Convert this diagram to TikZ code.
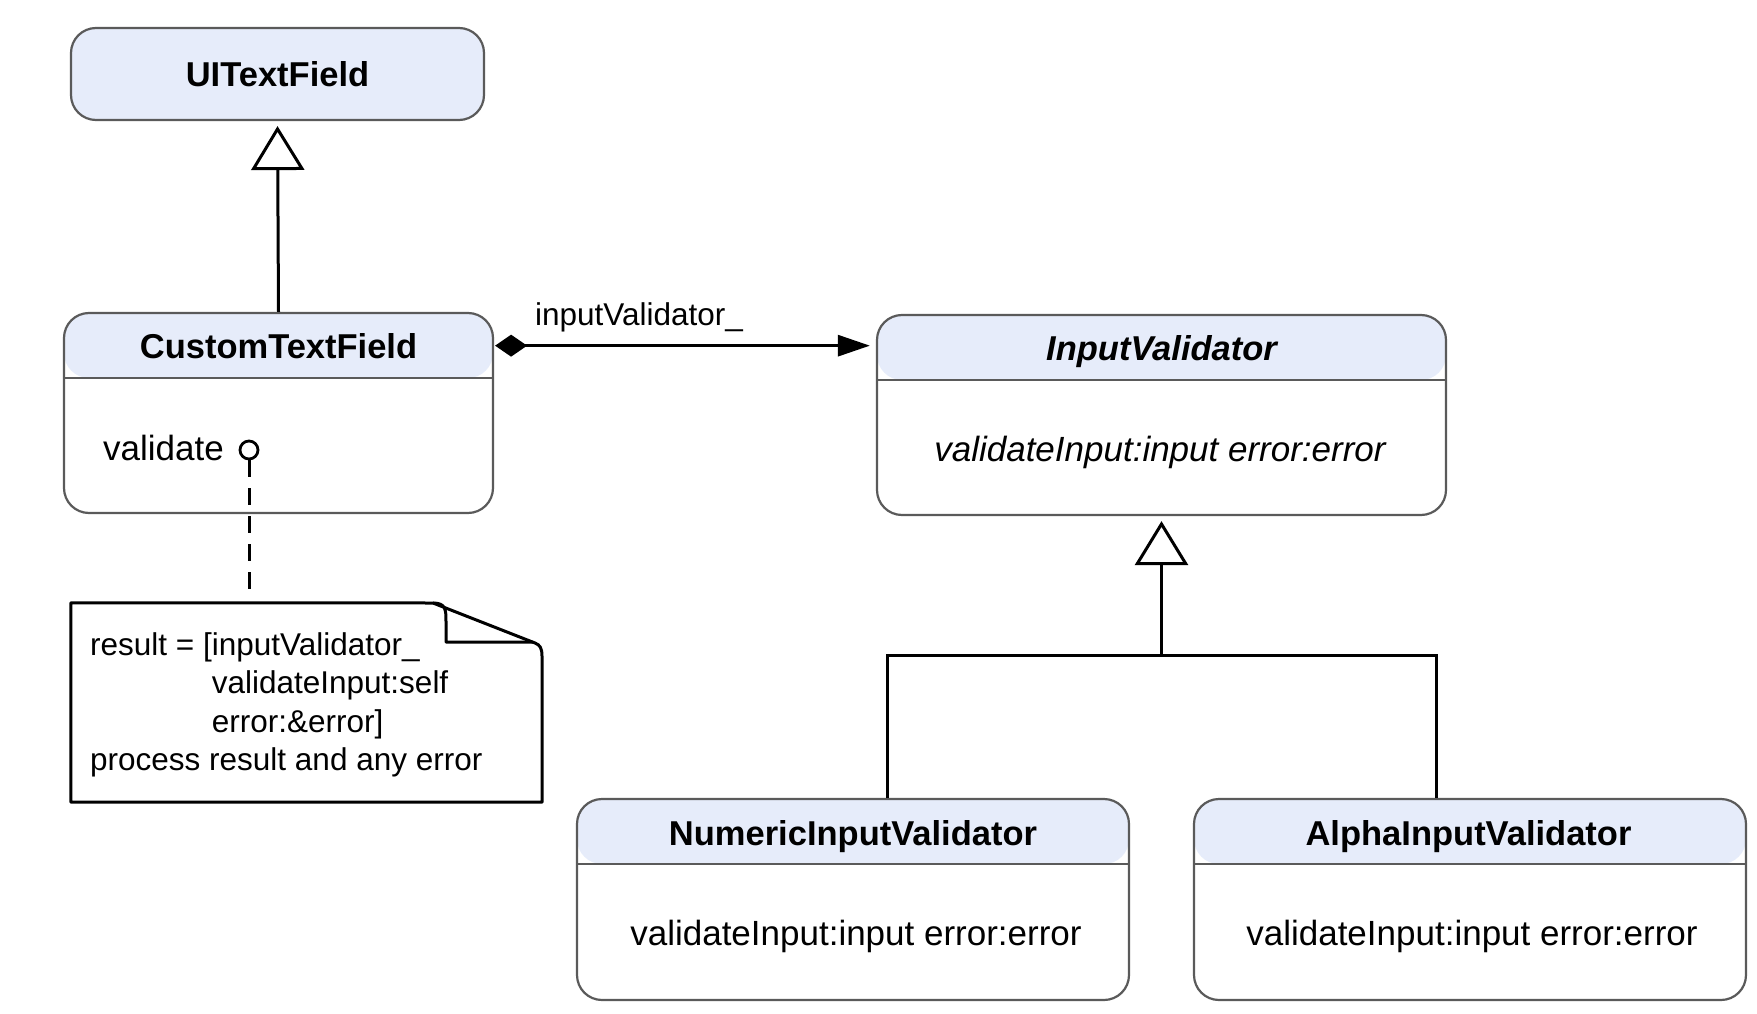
\documentclass[tikz,border=0pt]{standalone}
\usepackage{fontspec}
\setmainfont{Liberation Sans}
\usetikzlibrary{arrows.meta,calc}
\definecolor{hdrfill}{RGB}{230,236,250}
\definecolor{clsborder}{RGB}{90,90,90}
\begin{document}
\begin{tikzpicture}[x=1pt,y=-1pt,
  cls/.style={draw=clsborder, line width=2.2pt, rounded corners=25pt, fill=white, inner sep=0pt},
  hdr/.style={path picture={
     \fill[hdrfill] (path picture bounding box.north west) rectangle ([yshift=-65pt]path picture bounding box.north east);
     \draw[clsborder, line width=2.2pt] ([yshift=-65pt]path picture bounding box.north west) -- ([yshift=-65pt]path picture bounding box.north east);}},
  htext/.style={font=\fontsize{34.5}{40}\selectfont\bfseries, anchor=base, inner sep=0pt},
  btext/.style={font=\fontsize{35}{42}\selectfont, anchor=base, inner sep=0pt},
  ltext/.style={font=\fontsize{31.5}{38.5}\selectfont, inner sep=0pt},
  conn/.style={line width=3pt, black},
  gen/.style={conn, -{Triangle[open, length=44pt, width=53pt, line width=3pt]}},
  comp/.style={conn, {Diamond[length=32pt, width=22pt]}-{Triangle[length=32pt, width=21pt]}},
  notedash/.style={conn, dash pattern=on 17pt off 11pt},
  noteline/.style={line width=3pt, black, line join=round},
]
\useasboundingbox (0,0) rectangle (1757,1014);

% UITextField
\node[cls, fill=hdrfill, minimum width=413pt, minimum height=92pt] (uitf) at (277.5,74) {};
\node[htext] (uitfh) at (277.5,87) {UITextField};

% CustomTextField
\node[cls, hdr, minimum width=429pt, minimum height=200pt] (ctf) at (278.5,413) {};
\node[htext] (ctfh) at (278.5,358) {CustomTextField};
\node[btext, anchor=base west] (ctfb) at (103,460) {validate};
\node[circle, draw=black, line width=2.8pt, minimum size=18pt, inner sep=0pt, fill=white] (vc) at (249,450) {};

% InputValidator
\node[cls, hdr, minimum width=569pt, minimum height=200pt] (iv) at (1161.5,415) {};
\node[htext, font=\fontsize{34.5}{40}\selectfont\bfseries\itshape] (ivh) at (1161.5,360) {InputValidator};
\node[btext, font=\fontsize{35}{42}\selectfont\itshape] (ivb) at (1160,461) {validateInput:input error:error};

% NumericInputValidator
\node[cls, hdr, minimum width=552pt, minimum height=201pt] (num) at (853,899.5) {};
\node[htext] (numh) at (853,845) {NumericInputValidator};
\node[btext] (numb) at (856,945) {validateInput:input error:error};

% AlphaInputValidator
\node[cls, hdr, minimum width=552pt, minimum height=201pt] (alpha) at (1470,899.5) {};
\node[htext] (alphah) at (1468.5,845) {AlphaInputValidator};
\node[btext] (alphab) at (1472,945) {validateInput:input error:error};

% Note
\node[minimum width=471pt, minimum height=199pt, inner sep=0pt] (note) at (306.5,702.5) {};
\draw[noteline] (note.north west) -- (433,603) -- (535,643) .. controls (540,645) and (542,648) .. (542,656) -- (note.south east) -- (note.south west) -- cycle;
\draw[noteline] (433,603) .. controls (446,603) and (446,610) .. (446,622) -- (446,642) -- (533,642);
\node[ltext, anchor=base west] (notetext) at (90,655) {\vtop{\baselineskip=38.5pt
  \hbox{result = [inputValidator\_}
  \hbox{\phantom{result = [}validateInput:self}
  \hbox{\phantom{result = [}error:\&error]}
  \hbox{process result and any error}}};

% Connectors
\draw[gen, shorten >=5pt] (ctf.north) -- (uitf.south);
\draw[comp, shorten <=1pt, shorten >=6pt] (ctf.east |- ctfh) -- (iv.west |- ctfh);
\node[ltext, anchor=base west] (lbl) at (535,325) {inputValidator\_};

\coordinate (join) at (iv.south |- 0,655);
\draw[conn] ([xshift=34pt]num.north) |- (join) -| ([xshift=-34pt]alpha.north);
\draw[gen, shorten >=5pt] (join) -- (iv.south);

\coordinate (notetop) at (vc.south |- note.north);
\draw[notedash] (vc.south) -- ([yshift=13pt]notetop);
\end{tikzpicture}
\end{document}
